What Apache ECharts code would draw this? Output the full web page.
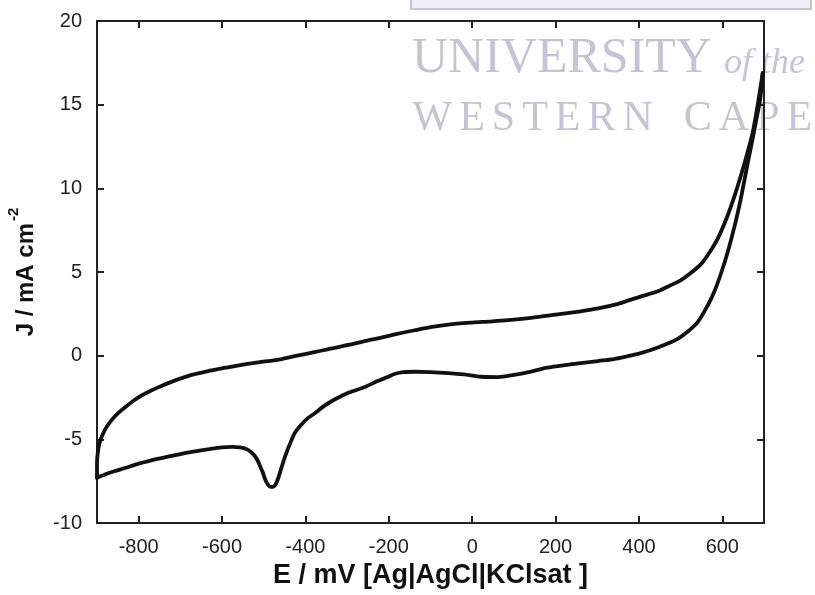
<!DOCTYPE html>
<html>
<head>
<meta charset="utf-8">
<script src="https://cdn.jsdelivr.net/npm/echarts@6/dist/echarts.min.js"></script>
<style>
  html, body { margin: 0; padding: 0; background: #fff; }
  #chart { width: 815px; height: 595px; }
</style>
</head>
<body>
<div id="chart"></div>
<script>
// forward (anodic) scan, -900 -> 700 mV
var forwardE = [-900, -900, -897, -893, -888, -878, -865, -850, -831, -810, -793, -770, -752, -720, -673, -630, -592, -550, -513, -457, -420, -376, -340, -297, -260, -218, -180, -137, -100, -57, 0, 40, 86, 141, 200, 260, 302, 350, 381, 420, 450, 475, 500, 525, 550, 570, 589, 610, 630, 645, 660, 673, 685, 692, 697]
var forwardJ = [-7.3, -6.4, -5.6, -5.15, -4.8, -4.3, -3.85, -3.45, -3.05, -2.65, -2.38, -2.08, -1.88, -1.55, -1.15, -0.9, -0.72, -0.53, -0.4, -0.2, 0.0, 0.22, 0.42, 0.64, 0.86, 1.08, 1.3, 1.52, 1.7, 1.86, 1.98, 2.04, 2.12, 2.26, 2.45, 2.65, 2.82, 3.1, 3.35, 3.65, 3.9, 4.2, 4.5, 4.95, 5.5, 6.2, 7.0, 8.2, 9.6, 10.8, 12.1, 13.35, 15.0, 16.1, 16.9]

// reverse (cathodic) scan, 700 -> -900 mV
var reverseE = [697, 695, 690, 680, 673, 661, 650, 642, 630, 613, 598, 582, 565, 541, 520, 493, 462, 430, 400, 370, 340, 302, 260, 223, 180, 141, 100, 62, 22, -20, -57, -100, -137, -165, -185, -201, -230, -256, -297, -330, -355, -376, -395, -410, -425, -436, -447, -457, -465, -472, -478, -484, -490, -496, -502, -508, -515, -522, -529, -540, -553, -575, -600, -630, -673, -710, -752, -800, -831, -870, -900]
var reverseJ = [16.9, 16.3, 15.2, 13.9, 13.0, 11.5, 10.1, 9.1, 7.8, 6.2, 5.0, 3.9, 3.0, 2.0, 1.5, 1.0, 0.65, 0.35, 0.12, -0.05, -0.2, -0.32, -0.45, -0.56, -0.72, -0.95, -1.15, -1.28, -1.26, -1.12, -1.04, -0.98, -0.96, -0.98, -1.08, -1.26, -1.55, -1.86, -2.22, -2.62, -3.0, -3.41, -3.75, -4.13, -4.6, -5.2, -5.9, -6.65, -7.3, -7.72, -7.84, -7.84, -7.7, -7.43, -7.0, -6.65, -6.25, -5.98, -5.8, -5.6, -5.5, -5.45, -5.48, -5.58, -5.75, -5.93, -6.15, -6.45, -6.7, -7.0, -7.3]

var xTicks = [-800, -600, -400, -200, 0, 200, 400, 600]

function pairs (xs, ys) {
  var res = []
  for (var i = 0; i < xs.length; i++) {
    res.push([xs[i], ys[i]])
  }
  return res
}

// spread letters apart like the watermark
function spaced (word) {
  return word.split('').map(function (c) { return '{w|' + c + '}' }).join('')
}

var chart = echarts.init(document.getElementById('chart'))

var font = 'Liberation Sans, Arial, sans-serif'
var serif = 'Liberation Serif, Times New Roman, serif'
var markColor = '#c4c4d6'
var axisLine = { show: true, onZero: false, lineStyle: { color: '#222', width: 2 } }
var tickIn = { show: true, inside: true, length: 7, lineStyle: { color: '#222', width: 2 } }

var option = {
  backgroundColor: '#fff',
  animation: false,
  grid: { left: 97, right: 51, top: 21, bottom: 72, outerBoundsMode: 'none' },
  graphic: [
    {
      type: 'rect',
      z: 0,
      shape: { x: 411, y: -3, width: 400, height: 12 },
      style: { fill: '#eeeef5', stroke: '#c4c4d6', lineWidth: 2 }
    },
    {
      type: 'text',
      z: 0,
      style: {
        x: 412, y: 59, text: 'UNIVERSITY',
        font: '50px ' + serif, fill: markColor, textVerticalAlign: 'middle'
      }
    },
    {
      type: 'text',
      z: 0,
      style: {
        x: 724, y: 64, text: 'of the',
        font: 'italic 36px ' + serif, fill: markColor, textVerticalAlign: 'middle'
      }
    },
    {
      type: 'text',
      z: 0,
      style: {
        x: 409, y: 119,
        text: spaced('WESTERN') + '{sp| }' + spaced('CAPE'),
        font: '42px ' + serif, fill: markColor, textVerticalAlign: 'middle',
        rich: {
          w: { font: '42px ' + serif, fill: markColor, padding: [0, 3.5, 0, 3.5] },
          sp: { font: '42px ' + serif, width: 24 }
        }
      }
    }
  ],
  xAxis: [
    {
      type: 'value',
      min: -900,
      max: 700,
      name: 'E / mV [Ag|AgCl|KClsat ]',
      nameLocation: 'middle',
      nameGap: 35,
      nameTextStyle: { fontFamily: font, fontSize: 27, fontWeight: 'bold', color: '#111' },
      axisLine: axisLine,
      axisTick: Object.assign({ customValues: xTicks }, tickIn),
      axisLabel: { customValues: xTicks, margin: 14, fontFamily: font, fontSize: 20, color: '#222' },
      splitLine: { show: false }
    },
    {
      type: 'value',
      position: 'top',
      min: -900,
      max: 700,
      axisLine: axisLine,
      axisTick: Object.assign({ customValues: xTicks }, tickIn),
      axisLabel: { show: false },
      splitLine: { show: false }
    }
  ],
  yAxis: [
    {
      type: 'value',
      min: -10,
      max: 20,
      interval: 5,
      name: '{b|J / mA cm}{s|-2}',
      nameLocation: 'middle',
      nameRotate: 90,
      nameGap: 59,
      nameTextStyle: {
        rich: {
          b: { fontFamily: font, fontSize: 24, fontWeight: 'bold', color: '#111', padding: [8, 0, 0, 0], verticalAlign: 'bottom' },
          s: { fontFamily: font, fontSize: 15, fontWeight: 'bold', color: '#111', verticalAlign: 'top', padding: [0, 0, 0, 2] }
        }
      },
      axisLine: axisLine,
      axisTick: tickIn,
      axisLabel: { margin: 15, fontFamily: font, fontSize: 20, color: '#222' },
      splitLine: { show: false }
    },
    {
      type: 'value',
      position: 'right',
      min: -10,
      max: 20,
      interval: 5,
      axisLine: axisLine,
      axisTick: tickIn,
      axisLabel: { show: false },
      splitLine: { show: false }
    }
  ],
  series: [
    {
      name: 'forward',
      type: 'line',
      data: pairs(forwardE, forwardJ),
      showSymbol: false,
      smooth: 0.3,
      z: 3,
      lineStyle: { color: '#111', width: 3.8, cap: 'round', join: 'round' }
    },
    {
      name: 'reverse',
      type: 'line',
      data: pairs(reverseE, reverseJ),
      showSymbol: false,
      smooth: 0.3,
      z: 3,
      lineStyle: { color: '#111', width: 3.8, cap: 'round', join: 'round' }
    }
  ]
}

chart.setOption(option)
</script>
</body>
</html>
